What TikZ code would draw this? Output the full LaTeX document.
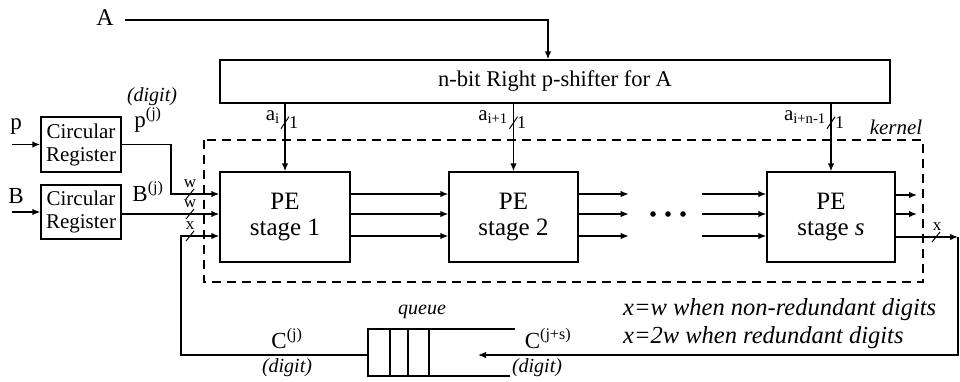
\documentclass[tikz,border=0pt]{standalone}
\usepackage{fontspec}
\setmainfont{Liberation Serif}
\usetikzlibrary{arrows.meta,calc}
\begin{document}
\begin{tikzpicture}[x=1pt,y=-1pt,
  box/.style={draw, line width=1.4pt, inner sep=0pt, align=center},
  conn/.style={line width=1.4pt},
  arr/.style={conn, -{Latex[length=8pt,width=6.5pt]}},
  dashbox/.style={line width=1.5pt, dash pattern=on 9pt off 6pt},
  lbl/.style={inner sep=0pt, font=\fontsize{20}{22}\selectfont},
  slbl/.style={inner sep=0pt, font=\fontsize{20}{22}\selectfont\itshape},
  note/.style={inner sep=0pt, anchor=west, font=\fontsize{24.5}{26}\selectfont\itshape},
  pe/.style={box, minimum height=90pt, font=\fontsize{25}{26}\selectfont},
  reg/.style={box, minimum width=80pt, font=\fontsize{21}{23}\selectfont},
  slash/.style={line width=1pt}
]
\useasboundingbox (0,0) rectangle (960,381);

% shifter and PE stages
\node[box, minimum width=670pt, minimum height=43pt, font=\fontsize{22.5}{24}\selectfont] (sh) at (555,81.5) {n-bit Right p-shifter for A};
\node[pe, minimum width=130pt] (PE1) at (285,217) {PE\\stage 1};
\node[pe, minimum width=129pt] (PE2) at (513.5,217) {PE\\stage 2};
\node[pe, minimum width=128pt] (PEs) at (831,217) {PE\\stage \textit{s}};

% registers
\node[reg, minimum height=55pt] (reg1) at (81,144.5) {Circular\\Register};
\node[reg, minimum height=54pt] (reg2) at (81,212) {Circular\\Register};

% kernel
\draw[dashbox] (204,140) rectangle (923,282);
\node[slbl, font=\fontsize{21}{23}\selectfont\itshape] (kern) at (896,127) {kernel};

% A input
\node[lbl, font=\fontsize{24}{26}\selectfont] (A) at (105,18) {A};
\coordinate (Ac) at (548,20);
\coordinate (As) at (125,20);
\draw[arr] (As) -- (Ac) -- (Ac |- sh.north);

% taps
\foreach \p in {PE1,PE2,PEs}{
  \draw[arr] (\p.north |- sh.south) -- (\p.north);
  \draw[slash] ($(\p.north |- sh.south)+(-4,25)$) -- ++(8,-12);
}
\node[lbl, font=\fontsize{18}{20}\selectfont, anchor=west] (o1) at (289,123) {1};
\node[lbl, font=\fontsize{18}{20}\selectfont, anchor=west] (o2) at (517,123) {1};
\node[lbl, font=\fontsize{18}{20}\selectfont, anchor=west] (o3) at (835,123) {1};
\node[lbl, font=\fontsize{21}{23}\selectfont, anchor=east] (ai) at (280,117) {a\textsubscript{i}};
\node[lbl, font=\fontsize{21}{23}\selectfont, anchor=east] (ai1) at (508,117) {a\textsubscript{i+1}};
\node[lbl, font=\fontsize{21}{23}\selectfont, anchor=east] (ain) at (826,117) {a\textsubscript{i+n-1}};

% inter-stage connections
\foreach \y in {194,214,236}{
  \coordinate (h) at (0,\y);
  \draw[arr] (PE1.east |- h) -- (PE2.west |- h);
  \draw[arr] (PE2.east |- h) -- ++(50,0);
  \draw[arr] (702,\y) -- (PEs.west |- h);
}
\foreach \x in {653,668,683} \fill (\x,214) circle (2.8pt);
\foreach \y in {195,214}{
  \coordinate (h) at (0,\y);
  \draw[arr] (PEs.east |- h) -- (917,\y);
}
\coordinate (xo) at (958,237);
\draw[arr] (PEs.east |- xo) -- (xo);
\draw[slash] (932,242) -- (940,232);
\node[slbl, font=\fontsize{17}{19}\selectfont] (xl) at (937,227) {x};

% queue
\coordinate (q) at (368,355);
\draw[conn] (515,329) -- (368,329) -- (368,376) -- (510,376);
\foreach \x in {390,408,429} \draw[conn] (\x,329) -- (\x,376);
\node[slbl] (ql) at (422,312) {queue};
\coordinate (qin) at (478,355);
\coordinate (qr) at (958,355);
\draw[arr] (xo) -- (qr) -- (qin);

% feedback
\coordinate (fb) at (181,236);
\coordinate (y1) at (0,194);
\coordinate (y2) at (0,214);
\draw[arr] (q) -- (fb |- q) -- (fb) -- (PE1.west |- fb);

% left inputs
\node[lbl, font=\fontsize{23}{25}\selectfont] (pl) at (16,127) {p};
\node[lbl, font=\fontsize{23}{25}\selectfont] (bl) at (16,196) {B};
\coordinate (pin) at (12,144.5);
\coordinate (bin) at (12,212);
\draw[arr] (pin) -- (reg1.west);
\draw[arr] (bin) -- (reg2.west);
\coordinate (w1c) at (171,144.5);
\draw[arr] (reg1.east) -- (w1c) -- (w1c |- y1) -- (PE1.west |- y1);
\draw[arr] (reg2.east |- y2) -- (PE1.west |- y2);
\foreach \y in {194,214,236} \draw[slash] (186,\y+5) -- (194,\y-5);
\node[slbl, font=\fontsize{17}{19}\selectfont] (w1) at (190,184) {w};
\node[slbl, font=\fontsize{17}{19}\selectfont] (w2) at (190,204) {w};
\node[slbl, font=\fontsize{17}{19}\selectfont] (x1) at (190,226) {x};

\node[lbl, font=\fontsize{23}{25}\selectfont] (pj) at (148,120) {p\textsuperscript{(j)}};
\node[slbl] (d1) at (152,97) {(digit)};
\node[lbl, font=\fontsize{23}{25}\selectfont] (bj) at (148,191) {B\textsuperscript{(j)}};

% C labels
\node[lbl, font=\fontsize{23}{25}\selectfont] (cj) at (287,339) {C\textsuperscript{(j)}};
\node[slbl] (d2) at (287,368) {(digit)};
\node[lbl, font=\fontsize{23}{25}\selectfont] (cjs) at (548,339) {C\textsuperscript{(j+s)}};
\node[slbl] (d3) at (537,368) {(digit)};

% notes
\node[note] (n1) at (623,310) {x=w when non-redundant digits};
\node[note] (n2) at (623,338) {x=2w when redundant digits};
\end{tikzpicture}
\end{document}
